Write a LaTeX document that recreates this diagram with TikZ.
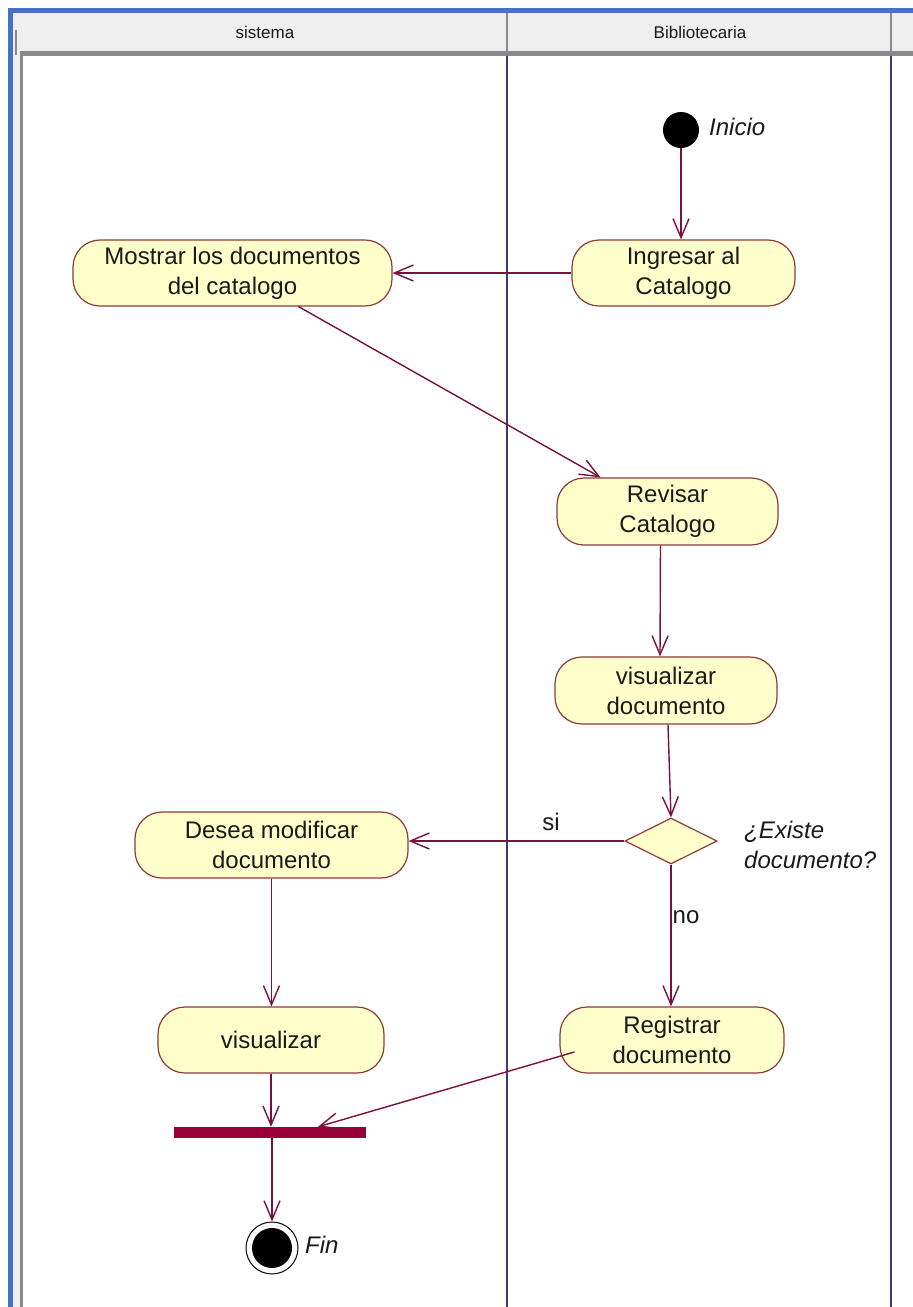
\documentclass[tikz,border=0pt]{standalone}
\usepackage{fontspec}
\setmainfont{Liberation Sans}
\usetikzlibrary{arrows.meta,shapes.geometric,calc}
\definecolor{blueb}{HTML}{4472C4}
\definecolor{hdr}{HTML}{EFEFEF}
\definecolor{hline}{HTML}{8A8A8A}
\definecolor{lane}{HTML}{3C3C6C}
\definecolor{flow}{HTML}{7A1040}
\definecolor{nodeb}{HTML}{8E3A3A}
\definecolor{nodef}{HTML}{FFFFCC}
\definecolor{barc}{HTML}{9A0038}
\definecolor{txt}{HTML}{1A1A1A}
\tikzset{
  act/.style={draw=nodeb, fill=nodef, line width=1.2pt, rounded corners=27pt,
    align=center, text=txt, inner sep=0pt, font=\fontsize{24}{30}\selectfont},
  flowline/.style={draw=flow, line width=1.4pt, -{Straight Barb[length=19pt,width=16pt]}},
  lbl/.style={text=txt, inner sep=0pt, font=\fontsize{24}{30}\selectfont},
  ilbl/.style={text=txt, inner sep=0pt, font=\fontsize{24}{30}\selectfont\itshape, align=left},
  hdrtxt/.style={text=txt, inner sep=0pt, font=\fontsize{17}{20}\selectfont}
}
\begin{document}
\begin{tikzpicture}[x=1pt,y=-1pt]
\useasboundingbox (0,0) rectangle (913,1307);
\fill[white] (0,0) rectangle (913,1307);
% header
\fill[hdr] (12,13) rectangle (913,51);
\fill[hdr] (12,51) rectangle (20,1307);
\draw[hline, line width=5pt] (20,53) -- (913,53);
\draw[hline, line width=3pt] (21,51) -- (21,1307);
\draw[hline, line width=1.5pt] (16,30) -- (16,55);
\draw[hline, line width=2pt] (507,13) -- (507,51);
\draw[hline, line width=2pt] (891,13) -- (891,51);
\draw[lane, line width=2pt] (507,56) -- (507,1307);
\draw[lane, line width=2pt] (891,56) -- (891,1307);
\node[hdrtxt] (h1) at (265,32) {sistema};
\node[hdrtxt] (h2) at (700,32) {Bibliotecaria};
% blue frame
\draw[blueb, line width=5pt] (10,1307) -- (10,10.5) -- (913,10.5);

% nodes
\node[circle, fill=black, minimum size=36pt, inner sep=0pt] (start) at (681,130) {};
\node[ilbl, anchor=west] (linicio) at (709,127) {Inicio};
\node[act, minimum width=223pt, minimum height=66pt] (ingresar) at (683.5,273) {Ingresar al\\Catalogo};
\node[act, minimum width=319pt, minimum height=66pt] (mostrar) at (232.5,273) {Mostrar los documentos\\del catalogo};
\node[act, minimum width=221pt, minimum height=67pt] (revisar) at (667.5,511.5) {Revisar\\Catalogo};
\node[act, minimum width=222pt, minimum height=67pt] (visdoc) at (666,690.5) {visualizar\\documento};
\node[diamond, draw=nodeb, fill=nodef, line width=1.2pt, minimum width=92pt, minimum height=46pt, inner sep=0pt] (dec) at (671,841) {};
\node[ilbl, anchor=west] (lexiste) at (744,845) {¿Existe\\documento?};
\node[lbl] (lsi) at (551,822) {si};
\node[lbl] (lno) at (686,917) {no};
\node[act, minimum width=273pt, minimum height=66pt] (desea) at (271.5,845) {Desea modificar\\documento};
\node[act, minimum width=226pt, minimum height=66pt] (visualizar) at (271,1040) {visualizar};
\node[act, minimum width=224pt, minimum height=66pt] (registrar) at (672,1040) {Registrar\\documento};
\node[fill=barc, minimum width=192pt, minimum height=11pt, inner sep=0pt] (bar) at (270,1132.5) {};
\node[circle, draw=black, line width=1pt, minimum size=52pt, inner sep=0pt] (fin) at (272,1248) {};
\fill[black] (fin.center) circle (20);
\node[ilbl, anchor=west] (lfin) at (305,1245) {Fin};

% connectors
\draw[flowline] (start.south) -- (start.south |- ingresar.north);
\draw[flowline] (ingresar.west) -- (mostrar.east);
\draw[flowline] ($(mostrar.south)+(66,0)$) -- ($(revisar.north)+(-67,0)$);
\draw[flowline] ($(revisar.south)+(-7,0)$) -- ($(visdoc.north)+(-6,0)$);
\draw[flowline] ($(visdoc.south)+(2,0)$) -- (dec.north);
\draw[flowline] (dec.west) -- (desea.east |- dec.west);
\draw[flowline] (dec.south) -- (dec.south |- registrar.north);
\draw[flowline] (desea.south) -- (desea.south |- visualizar.north);
\draw[flowline] (visualizar.south) -- (visualizar.south |- bar.north);
\draw[flowline] ($(registrar.west)+(15,12)$) -- ($(bar.north)+(48,0)$);
\draw[flowline] (fin.north |- bar.south) -- (fin.north);
\end{tikzpicture}
\end{document}
